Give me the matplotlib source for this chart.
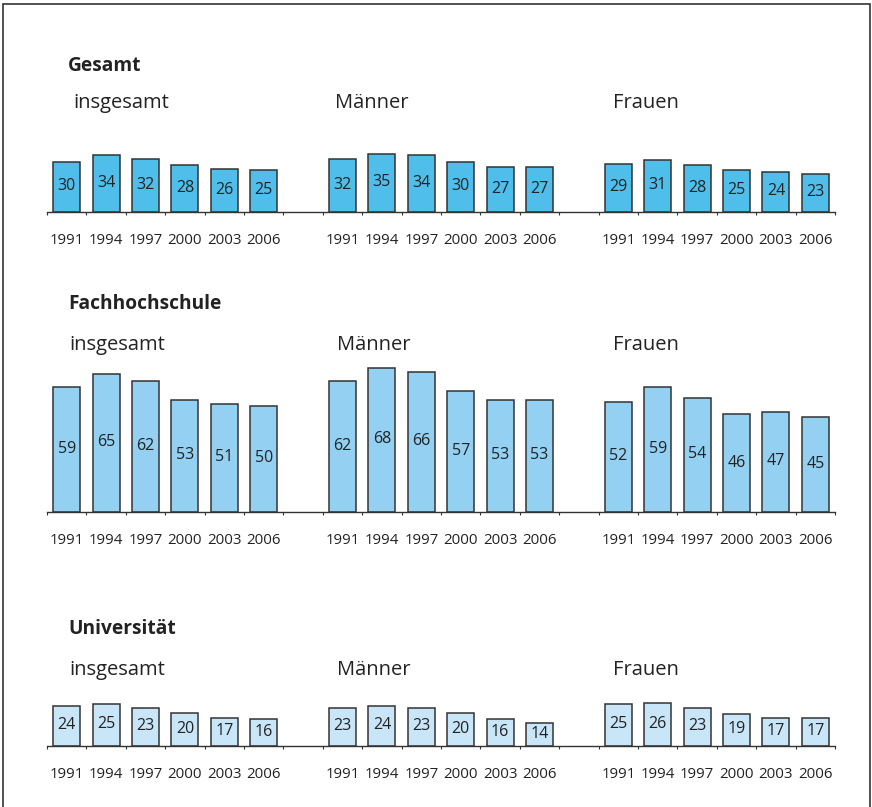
"""
Recreation of the three-panel bar chart (Gesamt / Fachhochschule / Universitaet).
"""

import matplotlib.pyplot as plt
from matplotlib.patches import Rectangle

plt.rcParams['font.family'] = ['Open Sans', 'DejaVu Sans']

# --- data -------------------------------------------------------------------
years = ['1991', '1994', '1997', '2000', '2003', '2006']
groups = ['insgesamt', 'Männer', 'Frauen']
sections = ['Gesamt', 'Fachhochschule', 'Universität']

gesamt_insg = [30, 34, 32, 28, 26, 25]
gesamt_maenner = [32, 35, 34, 30, 27, 27]
gesamt_frauen = [29, 31, 28, 25, 24, 23]

fh_insg = [59, 65, 62, 53, 51, 50]
fh_maenner = [62, 68, 66, 57, 53, 53]
fh_frauen = [52, 59, 54, 46, 47, 45]

uni_insg = [24, 25, 23, 20, 17, 16]
uni_maenner = [23, 24, 23, 20, 16, 14]
uni_frauen = [25, 26, 23, 19, 17, 17]

section_values = [
    [gesamt_insg, gesamt_maenner, gesamt_frauen],
    [fh_insg, fh_maenner, fh_frauen],
    [uni_insg, uni_maenner, uni_frauen],
]

# --- layout (pixels) --------------------------------------------------------
W, H = 872, 807
colors = ['#4fbeea', '#93d0f2', '#c9e5f8']
baselines = [212, 512, 746]       # y of the axis line
px_per_unit = [1.67, 2.12, 1.67]  # vertical scale of each panel
title_y = [66, 304, 629]
label_y = [103, 345, 670]
label_x = [[73, 335, 613], [69, 337, 613], [69, 337, 613]]
x_left, x_right = 47, 835
n_slots = 20


def fx(x):
    return x / W


def fy(y):
    return 1 - y / H


fig = plt.figure(figsize=(W / 100, H / 100), dpi=100)

# outer frame
fig.patches.append(Rectangle((fx(3), fy(812)), fx(870) - fx(3), fy(4) - fy(812),
                             transform=fig.transFigure, fill=False,
                             edgecolor='#333333', linewidth=1.2))

for s, name in enumerate(sections):
    ymax = 72 if s == 1 else 40
    height_px = ymax * px_per_unit[s]
    ax = fig.add_axes([fx(x_left), fy(baselines[s]), fx(x_right) - fx(x_left), height_px / H])
    ax.set_xlim(0, n_slots)
    ax.set_ylim(0, ymax)

    centers = []
    for g, vals in enumerate(section_values[s]):
        xs = [g * 7 + i + 0.5 for i in range(len(years))]
        centers += xs
        bars = ax.bar(xs, vals, width=0.69, color=colors[s],
                      edgecolor='#333333', linewidth=1.1, zorder=2)
        for bar, v in zip(bars, vals):
            ax.annotate(str(v), (bar.get_x() + bar.get_width() / 2, v / 2),
                        xytext=(0, 0.5), textcoords='offset points',
                        ha='center', va='center', fontsize=11.5, color='#222222')

    # year labels under each bar, small ticks at slot boundaries
    ax.set_xticks(centers)
    ax.set_xticklabels(years * 3, fontsize=10.8, color='#222222')
    ax.tick_params(axis='x', which='major', length=0, pad=15)
    ax.set_xticks(range(n_slots + 1), minor=True)
    ax.tick_params(axis='x', which='minor', length=2.5, width=0.8, color='#333333')
    ax.set_yticks([])
    for side in ['top', 'right', 'left']:
        ax.spines[side].set_visible(False)
    ax.spines['bottom'].set_color('#333333')
    ax.spines['bottom'].set_linewidth(1.0)
    ax.patch.set_visible(False)

    # section title and group labels
    fig.text(fx(68), fy(title_y[s]), name, fontsize=13.8, fontweight='bold',
             ha='left', va='center', color='#222222')
    for g, grp in enumerate(groups):
        fig.text(fx(label_x[s][g]), fy(label_y[s]), grp, fontsize=14.5,
                 ha='left', va='center', color='#222222')

plt.savefig('out.png', dpi=100)
plt.close()
